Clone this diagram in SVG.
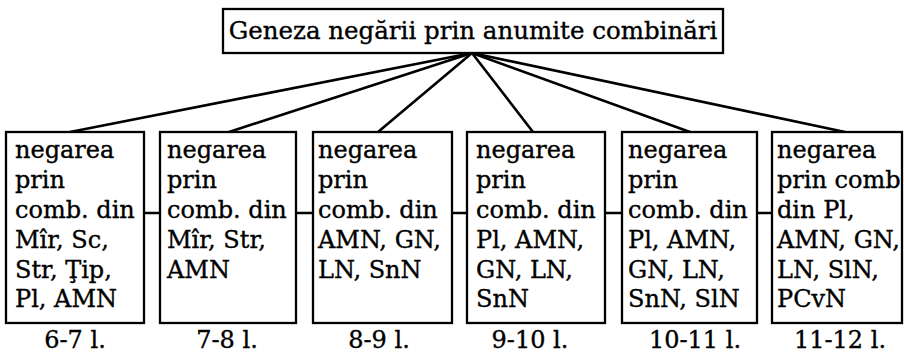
<svg xmlns="http://www.w3.org/2000/svg" width="904" height="356" viewBox="0 0 904 356">
  <style>
    .box { fill: #ffffff; stroke: #000000; stroke-width: 2.3; }
    .txt { font-family: "DejaVu Serif", "Liberation Serif", serif; font-size: 24px; fill: #000000; stroke: #000000; stroke-width: 0.35; }
    .lbl { font-family: "DejaVu Serif", "Liberation Serif", serif; font-size: 24px; fill: #000000; stroke: #000000; stroke-width: 0.35; text-anchor: middle; }
    .title { font-size: 24.5px; }
    .link { stroke: #000000; stroke-width: 2.6; fill: none; stroke-linecap: round; }
  </style>
  <rect width="904" height="356" fill="#ffffff"/>

  <!-- connectors -->
  <g id="connectors">
    <line class="link" x1="472" y1="53" x2="70" y2="132"/>
    <line class="link" x1="472" y1="53" x2="229" y2="132"/>
    <line class="link" x1="472" y1="53" x2="378" y2="132"/>
    <line class="link" x1="472" y1="53" x2="533" y2="132"/>
    <line class="link" x1="472" y1="53" x2="690" y2="132"/>
    <line class="link" x1="472" y1="53" x2="845" y2="132"/>
    <line class="link" x1="144" y1="213" x2="160" y2="213"/>
    <line class="link" x1="296" y1="213" x2="313" y2="213"/>
    <line class="link" x1="452" y1="213" x2="467" y2="213"/>
    <line class="link" x1="605" y1="213" x2="622" y2="213"/>
    <line class="link" x1="757" y1="213" x2="772" y2="213"/>
  </g>

  <!-- root -->
  <g id="root">
    <rect class="box" x="223" y="9" width="500" height="44"/>
    <text class="lbl title" x="473" y="38.5">Geneza negării prin anumite combinări</text>
  </g>

  <!-- stage 1 -->
  <g id="n1">
    <rect class="box" x="6" y="132" width="138" height="191"/>
    <text class="txt" x="15" y="158">
      <tspan x="15" y="158">negarea</tspan>
      <tspan x="15" y="188">prin</tspan>
      <tspan x="15" y="218">comb. din</tspan>
      <tspan x="15" y="248">Mîr, Sc,</tspan>
      <tspan x="15" y="278">Str, Ţip,</tspan>
      <tspan x="15" y="307">Pl, AMN</tspan>
    </text>
    <text class="lbl" x="75" y="348">6-7 l.</text>
  </g>

  <!-- stage 2 -->
  <g id="n2">
    <rect class="box" x="160" y="132" width="136" height="191"/>
    <text class="txt" x="167" y="158">
      <tspan x="167" y="158">negarea</tspan>
      <tspan x="167" y="188">prin</tspan>
      <tspan x="167" y="218">comb. din</tspan>
      <tspan x="167" y="248">Mîr, Str,</tspan>
      <tspan x="167" y="278">AMN</tspan>
    </text>
    <text class="lbl" x="227" y="348">7-8 l.</text>
  </g>

  <!-- stage 3 -->
  <g id="n3">
    <rect class="box" x="313" y="132" width="139" height="191"/>
    <text class="txt" x="318" y="158">
      <tspan x="318" y="158">negarea</tspan>
      <tspan x="318" y="188">prin</tspan>
      <tspan x="318" y="218">comb. din</tspan>
      <tspan x="318" y="248">AMN, GN,</tspan>
      <tspan x="318" y="278">LN, SnN</tspan>
    </text>
    <text class="lbl" x="379" y="348">8-9 l.</text>
  </g>

  <!-- stage 4 -->
  <g id="n4">
    <rect class="box" x="467" y="132" width="138" height="191"/>
    <text class="txt" x="476" y="158">
      <tspan x="476" y="158">negarea</tspan>
      <tspan x="476" y="188">prin</tspan>
      <tspan x="476" y="218">comb. din</tspan>
      <tspan x="476" y="248">Pl, AMN,</tspan>
      <tspan x="476" y="278">GN, LN,</tspan>
      <tspan x="476" y="307">SnN</tspan>
    </text>
    <text class="lbl" x="530" y="348">9-10 l.</text>
  </g>

  <!-- stage 5 -->
  <g id="n5">
    <rect class="box" x="622" y="132" width="135" height="191"/>
    <text class="txt" x="628" y="158">
      <tspan x="628" y="158">negarea</tspan>
      <tspan x="628" y="188">prin</tspan>
      <tspan x="628" y="218">comb. din</tspan>
      <tspan x="628" y="248">Pl, AMN,</tspan>
      <tspan x="628" y="278">GN, LN,</tspan>
      <tspan x="628" y="307">SnN, SlN</tspan>
    </text>
    <text class="lbl" x="695" y="348">10-11 l.</text>
  </g>

  <!-- stage 6 -->
  <g id="n6">
    <rect class="box" x="772" y="132" width="130" height="191"/>
    <text class="txt" x="777" y="158">
      <tspan x="777" y="158">negarea</tspan>
      <tspan x="777" y="188">prin comb</tspan>
      <tspan x="777" y="218">din Pl,</tspan>
      <tspan x="777" y="248">AMN, GN,</tspan>
      <tspan x="777" y="278">LN, SlN,</tspan>
      <tspan x="777" y="307">PCvN</tspan>
    </text>
    <text class="lbl" x="840" y="348">11-12 l.</text>
  </g>
</svg>
